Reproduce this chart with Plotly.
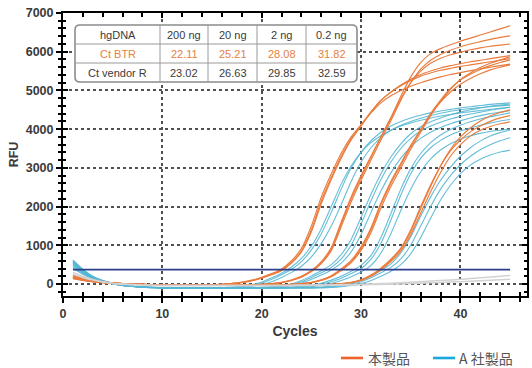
import plotly.graph_objects as go

# ---------------- data ----------------
cycles = [1, 2, 3, 4, 5, 6, 7, 8, 9, 10, 11, 12, 13, 14, 15, 16, 17, 18, 19, 20,
          21, 22, 23, 24, 25, 26, 27, 28, 29, 30, 31, 32, 33, 34, 35, 36, 37, 38, 39, 40,
          41, 42, 43, 44, 45]

# 本製品 (orange) – 4 template amounts x 3 replicates
orange_200ng_a = [200,130,80,45,25,10,0,-10,-15,-20,-20,-25,-25,-25,
                  -20,-10,10,40,90,160,250,360,560,850,
                  1400,2150,2750,3300,3750,4100,4450,4750,4950,5120,
                  5260,5370,5450,5520,5570,5620,5660,5700,5740,5780,5820]
orange_200ng_b = [150,100,60,35,20,5,-5,-10,-15,-20,-25,-25,-25,-25,
                  -20,-5,15,50,100,175,270,390,600,920,
                  1500,2250,2850,3380,3800,4120,4420,4680,4860,5000,
                  5110,5200,5280,5350,5410,5460,5510,5560,5600,5640,5680]
orange_200ng_c = [240,160,100,60,30,12,0,-10,-18,-22,-25,-25,-28,-28,
                  -22,-12,8,35,80,150,240,345,540,830,
                  1350,2080,2700,3250,3720,4080,4430,4740,4960,5140,
                  5290,5410,5500,5580,5640,5690,5740,5780,5820,5860,5900]
orange_20ng_a = [170,110,70,40,20,5,-5,-12,-18,-22,
                 -25,-25,-25,-25,-25,-25,-22,-20,-20,-10,
                 10,40,100,190,340,560,900,1550,2200,2750,
                 3280,3800,4300,4850,5350,5720,5950,6080,6180,6270,
                 6350,6430,6510,6590,6670]
orange_20ng_b = [200,130,80,45,25,10,0,-10,-15,-20,
                 -22,-25,-25,-25,-25,-25,-22,-20,-22,-12,
                 5,35,90,175,320,530,860,1480,2120,2680,
                 3200,3720,4220,4750,5200,5550,5780,5930,6040,6130,
                 6200,6260,6320,6370,6410]
orange_20ng_c = [140,95,60,35,18,5,-5,-12,-18,-22,
                 -25,-25,-25,-25,-25,-25,-22,-20,-20,-8,
                 12,45,105,200,350,580,940,1600,2250,2800,
                 3300,3800,4280,4780,5200,5500,5700,5830,5920,5990,
                 6050,6100,6140,6170,6200]
orange_2ng_a = [180,120,75,45,25,10,0,-10,-15,-20,
                -22,-25,-25,-25,-25,-25,-25,-25,-25,-22,
                -20,-20,-10,10,40,100,200,370,580,920,
                1400,2050,2600,3080,3550,3980,4400,4750,5050,5270,
                5420,5540,5640,5720,5790]
orange_2ng_b = [210,140,85,50,28,12,0,-10,-15,-20,
                -22,-25,-25,-25,-25,-25,-25,-25,-25,-22,
                -20,-22,-12,5,35,90,185,345,550,870,
                1330,1960,2520,3000,3480,3920,4350,4720,5030,5280,
                5450,5590,5700,5790,5870]
orange_2ng_c = [160,105,65,40,20,8,-3,-12,-18,-22,
                -24,-26,-26,-26,-26,-26,-26,-25,-24,-22,
                -20,-18,-8,12,45,110,215,390,610,960,
                1450,2100,2650,3120,3580,3990,4380,4700,4960,5160,
                5310,5430,5530,5600,5660]
orange_02ng_a = [180,120,75,45,25,10,0,-10,-15,-20,
                 -22,-25,-25,-25,-25,-25,-25,-25,-25,-25,
                 -25,-25,-25,-22,-20,-20,-10,10,40,100,
                 220,400,620,900,1350,1950,2520,3050,3480,3800,
                 4030,4210,4340,4430,4500]
orange_02ng_b = [220,145,90,50,28,12,0,-10,-15,-20,
                 -22,-25,-25,-25,-25,-25,-25,-25,-25,-25,
                 -25,-25,-25,-24,-22,-22,-12,5,35,90,
                 200,370,580,850,1270,1830,2380,2880,3300,3600,
                 3820,3970,4070,4140,4190]
orange_02ng_c = [150,100,62,38,20,8,-3,-12,-18,-22,
                 -24,-26,-26,-26,-26,-26,-26,-26,-26,-26,
                 -26,-25,-24,-22,-20,-20,-8,12,45,110,
                 230,410,640,930,1400,2000,2560,3050,3440,3720,
                 3930,4080,4200,4290,4350]

# A 社製品 (blue)
blue_200ng_a = [600,360,190,85,20,-30,-60,-80,-90,-100,
                -100,-100,-100,-100,-100,-100,-90,-70,-40,20,
                120,240,380,580,880,1300,1850,2450,3000,3400,
                3700,3920,4080,4200,4290,4360,4420,4470,4510,4550,
                4580,4610,4640,4660,4680]
blue_200ng_b = [480,300,160,70,10,-35,-65,-85,-95,-100,
                -105,-105,-105,-105,-105,-105,-100,-85,-60,-20,
                60,170,300,460,700,1050,1500,2050,2650,3150,
                3520,3780,3970,4100,4200,4280,4350,4410,4460,4500,
                4530,4560,4580,4600,4620]
blue_200ng_c = [540,330,175,80,15,-30,-60,-80,-90,-95,
                -100,-100,-100,-100,-100,-95,-80,-55,-20,50,
                160,280,440,660,980,1430,2000,2580,3050,3400,
                3650,3830,3970,4080,4160,4230,4290,4340,4380,4420,
                4450,4480,4510,4540,4560]
blue_20ng_a = [560,340,180,80,15,-30,-60,-80,-90,-100,
               -100,-100,-100,-100,-100,-100,-100,-100,-100,-90,
               -80,-60,-20,60,170,290,430,650,1000,1550,
               2150,2700,3150,3500,3760,3950,4080,4180,4260,4330,
               4390,4440,4490,4530,4570]
blue_20ng_b = [450,280,150,65,5,-40,-65,-85,-95,-100,
               -105,-105,-105,-105,-105,-105,-105,-105,-105,-100,
               -90,-75,-45,20,120,230,360,540,830,1280,
               1850,2400,2870,3250,3540,3760,3920,4040,4140,4220,
               4290,4350,4400,4440,4480]
blue_20ng_c = [620,380,200,90,25,-25,-55,-75,-85,-95,
               -95,-95,-95,-95,-95,-95,-95,-95,-95,-85,
               -70,-45,0,90,210,340,500,760,1150,1720,
               2320,2850,3280,3620,3880,4060,4190,4290,4370,4440,
               4500,4550,4590,4620,4650]
blue_2ng_a = [500,310,165,75,10,-35,-60,-80,-90,-100,
              -100,-100,-100,-100,-100,-100,-100,-100,-100,-100,
              -100,-100,-90,-75,-50,-10,60,150,270,400,
              640,1050,1650,2300,2850,3250,3520,3710,3850,3950,
              4030,4100,4160,4210,4250]
blue_2ng_b = [430,270,145,60,0,-40,-65,-85,-95,-100,
              -105,-105,-105,-105,-105,-105,-105,-105,-105,-105,
              -105,-105,-100,-90,-70,-40,10,90,190,310,
              480,800,1300,1900,2450,2900,3230,3460,3620,3740,
              3830,3890,3940,3970,4000]
blue_2ng_c = [580,350,185,85,20,-30,-58,-78,-88,-95,
              -95,-95,-95,-95,-95,-95,-95,-95,-95,-95,
              -95,-95,-80,-60,-30,20,100,200,330,480,
              740,1200,1820,2450,2980,3370,3650,3850,3990,4100,
              4190,4260,4320,4370,4420]
blue_02ng_a = [520,320,170,75,10,-35,-60,-80,-90,-100,
               -100,-100,-100,-100,-100,-100,-100,-100,-100,-100,
               -100,-100,-100,-100,-100,-90,-75,-50,-10,60,
               160,290,430,650,1000,1500,2000,2450,2800,3080,
               3300,3470,3600,3700,3780]
blue_02ng_b = [400,250,135,55,0,-40,-65,-85,-95,-100,
               -105,-105,-105,-105,-105,-105,-105,-105,-105,-105,
               -105,-105,-105,-105,-105,-100,-90,-70,-40,10,
               90,200,330,500,780,1200,1700,2170,2550,2850,
               3070,3220,3330,3410,3460]
blue_02ng_c = [560,340,180,80,15,-30,-58,-78,-88,-95,
               -95,-95,-95,-95,-95,-95,-95,-95,-95,-95,
               -95,-95,-95,-95,-95,-80,-60,-30,20,100,
               210,350,520,800,1220,1750,2250,2680,3020,3300,
               3520,3690,3820,3910,3980]

# no-template controls (grey)
ntc_a = [300,200,120,60,20,0,-15,-25,-30,-35,
         -35,-35,-35,-35,-35,-35,-35,-35,-35,-35,
         -30,-30,-30,-25,-25,-20,-20,-15,-10,-5,
         0,10,20,30,45,60,75,90,105,120,
         140,160,180,200,220]
ntc_b = [250,170,100,50,15,-5,-20,-30,-40,-45,
         -45,-45,-45,-45,-45,-45,-45,-45,-45,-45,
         -45,-45,-40,-40,-35,-35,-30,-30,-25,-20,
         -15,-10,-5,0,10,20,30,40,50,60,
         70,85,100,110,120]

threshold_rfu = 370

table_header = ["hgDNA", "200 ng", "20 ng", "2 ng", "0.2 ng"]
row_btr_label = "Ct BTR"
row_vendor_label = "Ct vendor R"
ct_btr = [22.11, 25.21, 28.08, 31.82]
ct_vendor = [23.02, 26.63, 29.85, 32.59]

x_ticks = [0, 10, 20, 30, 40]
y_ticks = [0, 1000, 2000, 3000, 4000, 5000, 6000, 7000]
legend_labels = ["本製品", "A 社製品"]

orange_series = [orange_200ng_a, orange_200ng_b, orange_200ng_c,
                 orange_20ng_a, orange_20ng_b, orange_20ng_c,
                 orange_2ng_a, orange_2ng_b, orange_2ng_c,
                 orange_02ng_a, orange_02ng_b, orange_02ng_c]
blue_series = [blue_200ng_a, blue_200ng_b, blue_200ng_c,
               blue_20ng_a, blue_20ng_b, blue_20ng_c,
               blue_2ng_a, blue_2ng_b, blue_2ng_c,
               blue_02ng_a, blue_02ng_b, blue_02ng_c]

# ---------------- styling ----------------
W, H = 532, 368
ML, MR, MT, MB = 63, 5, 13, 72
ORANGE = "#ea7b3c"
BLUE = "#55b7d3"
TXT = "#3a3a3a"
FONT = "Liberation Sans, Arial, sans-serif"
CJK = "Noto Sans CJK JP, sans-serif"


def px2paper_x(px):
    return (px - ML) / (W - ML - MR)


def px2paper_y(py):
    return (H - MB - py) / (H - MT - MB)


fig = go.Figure()

for s in [ntc_a, ntc_b]:
    fig.add_trace(go.Scatter(x=cycles, y=s, mode="lines", xaxis="x2", yaxis="y2",
                             line=dict(color="#d2d2d2", width=1.5, shape="spline", smoothing=0.6),
                             showlegend=False, hoverinfo="skip"))

for s in blue_series:
    fig.add_trace(go.Scatter(x=cycles, y=s, mode="lines",
                             line=dict(color=BLUE, width=1.1, shape="spline", smoothing=0.6),
                             opacity=0.9, showlegend=False))
for s in orange_series:
    fig.add_trace(go.Scatter(x=cycles, y=s, mode="lines",
                             line=dict(color=ORANGE, width=1.15, shape="spline", smoothing=0.6),
                             showlegend=False))

fig.add_trace(go.Scatter(x=[cycles[0], cycles[-1]], y=[threshold_rfu, threshold_rfu],
                         mode="lines", xaxis="x2", yaxis="y2",
                         line=dict(color="#2c3d8c", width=1.6),
                         showlegend=False, hoverinfo="skip"))

XR = [0, 46.7]
YR = [-310, 7000]
tickfont = dict(family=FONT, size=12.5, color=TXT, weight="bold")

fig.update_layout(
    width=W, height=H,
    margin=dict(l=ML, r=MR, t=MT, b=MB, autoexpand=False),
    paper_bgcolor="white", plot_bgcolor="white",
    xaxis=dict(range=XR, tickvals=x_ticks, ticks="outside", ticklen=5, tickwidth=1.5,
               tickcolor="black", showline=True, linecolor="black", linewidth=2,
               showgrid=True, gridcolor="#505050", griddash="dot", gridwidth=1.5,
               zeroline=False, tickfont=tickfont,
               minor=dict(dtick=2, ticks="outside", ticklen=4, tickwidth=1.5,
                          tickcolor="black", showgrid=False),
               title=dict(text="Cycles", font=dict(family=FONT, size=14, color=TXT, weight="bold"),
                          standoff=6)),
    yaxis=dict(range=YR, tickvals=y_ticks, ticks="outside", ticklen=5, tickwidth=1.5,
               tickcolor="black", showline=True, linecolor="black", linewidth=2,
               showgrid=True, gridcolor="#505050", griddash="dot", gridwidth=1.5,
               zeroline=False, tickfont=tickfont,
               minor=dict(dtick=200, ticks="outside", ticklen=3, tickwidth=1.5,
                          tickcolor="black", showgrid=False),
               title=dict(text="RFU", font=dict(family=FONT, size=12.5, color=TXT, weight="bold"),
                          standoff=4)),
    xaxis2=dict(range=XR, overlaying="x", anchor="y2", side="bottom", tickvals=x_ticks,
                ticks="inside", ticklen=5, tickwidth=1.5, tickcolor="black",
                showline=True, linecolor="black", linewidth=2, mirror="ticks",
                showgrid=False, zeroline=False, showticklabels=False,
                minor=dict(dtick=2, ticks="inside", ticklen=4, tickwidth=1.5,
                           tickcolor="black", showgrid=False)),
    yaxis2=dict(range=YR, overlaying="y", anchor="x2", side="left", tickvals=y_ticks,
                ticks="inside", ticklen=5, tickwidth=1.5, tickcolor="black",
                showline=True, linecolor="black", linewidth=2, mirror="ticks",
                showgrid=False, zeroline=False, showticklabels=False,
                minor=dict(dtick=200, ticks="inside", ticklen=3, tickwidth=1.5,
                           tickcolor="black", showgrid=False)),
)

# ---------------- Ct table ----------------
col_px = [75, 160, 208, 257, 306, 357]
row_px = [25, 44, 63, 82]
x0, x1 = px2paper_x(col_px[0]), px2paper_x(col_px[-1])
y0, y1 = px2paper_y(row_px[-1]), px2paper_y(row_px[0])
rx, ry = 5 / (W - ML - MR), 5 / (H - MT - MB)
path = (f"M {x0+rx},{y1} L {x1-rx},{y1} Q {x1},{y1} {x1},{y1-ry} "
        f"L {x1},{y0+ry} Q {x1},{y0} {x1-rx},{y0} L {x0+rx},{y0} "
        f"Q {x0},{y0} {x0},{y0+ry} L {x0},{y1-ry} Q {x0},{y1} {x0+rx},{y1} Z")
fig.add_shape(type="path", path=path, xref="paper", yref="paper",
              fillcolor="white", line=dict(color="#8c8c8c", width=1.6), layer="above")
for cx in col_px[1:-1]:
    fig.add_shape(type="line", xref="paper", yref="paper",
                  x0=px2paper_x(cx), x1=px2paper_x(cx), y0=y0, y1=y1,
                  line=dict(color="#9a9a9a", width=1), layer="above")
for ry_ in row_px[1:-1]:
    fig.add_shape(type="line", xref="paper", yref="paper",
                  x0=x0, x1=x1, y0=px2paper_y(ry_), y1=px2paper_y(ry_),
                  line=dict(color="#9a9a9a", width=1), layer="above")

rows = [
    (table_header, TXT),
    ([row_btr_label] + [f"{v:.2f}" for v in ct_btr], "#e5803f"),
    ([row_vendor_label] + [f"{v:.2f}" for v in ct_vendor], TXT),
]
for ri, (cells, color) in enumerate(rows):
    cy = (row_px[ri] + row_px[ri + 1]) / 2
    for ci, txt in enumerate(cells):
        cx = (col_px[ci] + col_px[ci + 1]) / 2
        fig.add_annotation(x=px2paper_x(cx), y=px2paper_y(cy), xref="paper", yref="paper",
                           text=txt, showarrow=False, xanchor="center", yanchor="middle",
                           font=dict(family=FONT, size=11, color=color))

# ---------------- legend ----------------
leg_y = px2paper_y(358)
for (lx0, lx1, tx), label, color in zip([(341, 363, 367), (433, 455, 458)], legend_labels,
                                        ["#f0622c", "#1aa9dc"]):
    fig.add_shape(type="line", xref="paper", yref="paper",
                  x0=px2paper_x(lx0), x1=px2paper_x(lx1), y0=leg_y, y1=leg_y,
                  line=dict(color=color, width=2.6))
    fig.add_annotation(x=px2paper_x(tx), y=leg_y, xref="paper", yref="paper",
                       text=label, showarrow=False, xanchor="left", yanchor="middle",
                       borderpad=0,
                       font=dict(family=CJK, size=14, color="#555555"))

fig.write_html("out.html", config={"displayModeBar": False},
               post_script="document.body.style.margin='0';document.body.style.overflow='hidden';")
